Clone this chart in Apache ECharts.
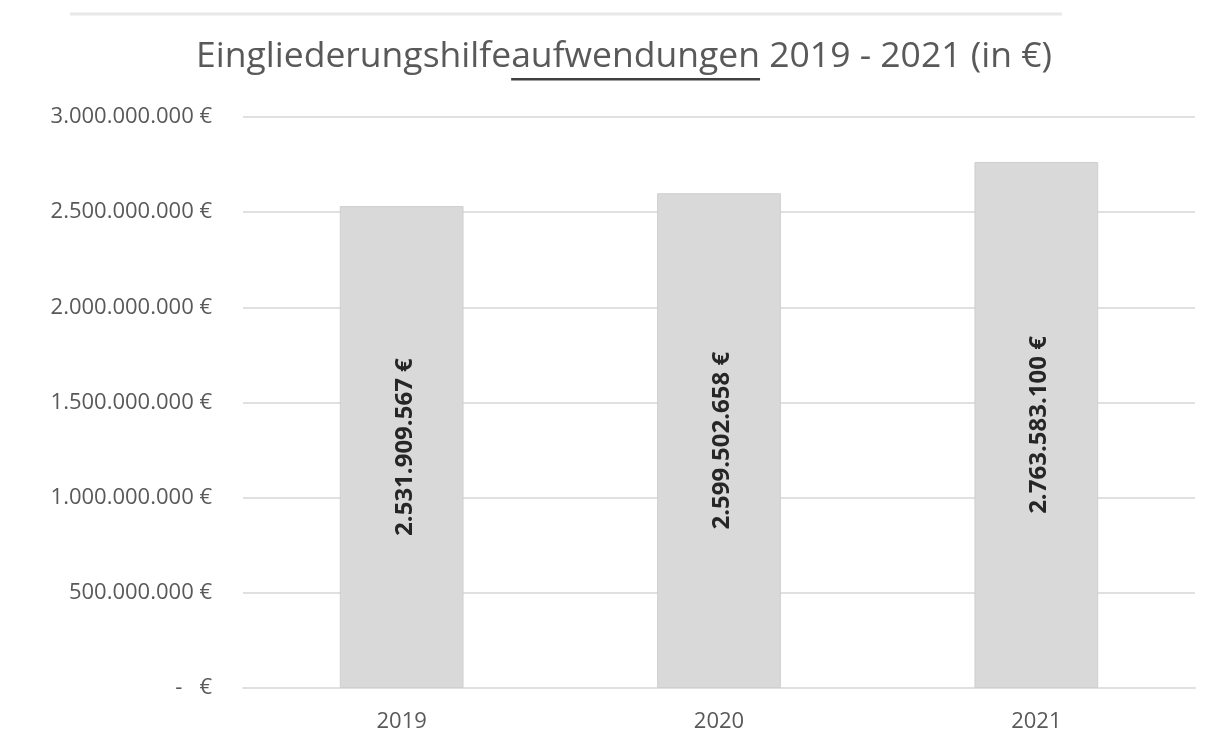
<!DOCTYPE html>
<html>
<head>
<meta charset="utf-8">
<script src="https://cdn.jsdelivr.net/npm/echarts@6/dist/echarts.min.js"></script>
<style>
  html, body { margin: 0; padding: 0; background: #ffffff; }
  #chart { width: 1224px; height: 749px; }
</style>
</head>
<body>
<div id="chart"></div>
<script>
// Jahre und Aufwendungen der Eingliederungshilfe (in €)
const years = ['2019', '2020', '2021'];
const expenses = [2531909567, 2599502658, 2763583100];
// Achsenbeschriftung
const yTicks = [0, 500000000, 1000000000, 1500000000, 2000000000, 2500000000, 3000000000];
const titleMain = 'Eingliederungshilfe';
const titleUnder = 'aufwendungen';
const titleRest = ' 2019 - 2021 (in €)';

const FONT = 'Open Sans';
const TITLE_SIZE = 35.5;

// Deutsche Tausendertrennung, Buchhaltungsformat für Null
function euro(v) {
  if (v === 0) return '-   €';
  return String(Math.round(v)).replace(/\B(?=(\d{3})+(?!\d))/g, '.') + ' €';
}

// Textbreite mit derselben Messung wie beim Zeichnen
function textWidth(str) {
  const t = new echarts.graphic.Text({
    style: { text: str, fontFamily: FONT, fontSize: TITLE_SIZE }
  });
  return t.getBoundingRect().width;
}

function draw() {
  const chart = echarts.init(document.getElementById('chart'), null, { renderer: 'canvas' });

  const wMain = textWidth(titleMain);
  const wUnder = textWidth(titleUnder);
  const wRest = textWidth(titleRest);
  const wTotal = wMain + wUnder + wRest;
  const titleCenter = 624;
  const titleTop = 39;
  const underX = titleCenter - wTotal / 2 + wMain;

  chart.setOption({
    backgroundColor: '#ffffff',
    animation: false,
    title: {
      text: '{a|' + titleMain + '}{a|' + titleUnder + '}{a|' + titleRest + '}',
      left: titleCenter,
      textAlign: 'center',
      top: titleTop,
      padding: 0,
      textStyle: {
        rich: {
          a: { fontFamily: FONT, fontSize: TITLE_SIZE, color: '#595959', fontWeight: 'normal' }
        }
      }
    },
    graphic: [
      {
        // Unterstreichung von „aufwendungen“
        type: 'rect',
        shape: { x: underX, y: 78, width: wUnder, height: 2.5 },
        style: { fill: '#404040' },
        silent: true
      },
      {
        // dünne Trennlinie oberhalb des Diagramms
        type: 'line',
        shape: { x1: 70, y1: 14, x2: 1062, y2: 14 },
        style: { stroke: '#e8e8e8', lineWidth: 3 },
        silent: true
      }
    ],
    grid: { left: 243, right: 29, top: 117, bottom: 61, containLabel: false },
    xAxis: {
      type: 'category',
      data: years,
      axisLine: { show: true, lineStyle: { color: '#e0e0e0', width: 2 } },
      axisTick: { show: false },
      axisLabel: { color: '#595959', fontFamily: FONT, fontSize: 22, margin: 23 }
    },
    yAxis: {
      type: 'value',
      min: yTicks[0],
      max: yTicks[yTicks.length - 1],
      interval: yTicks[1] - yTicks[0],
      axisLine: { show: false },
      axisTick: { show: false },
      splitLine: { lineStyle: { color: '#e0e0e0', width: 2 } },
      axisLabel: {
        color: '#595959', fontFamily: FONT, fontSize: 22, margin: 31,
        formatter: euro
      }
    },
    series: [{
      type: 'bar',
      data: expenses,
      barWidth: '39%',
      itemStyle: { color: '#d9d9d9', borderColor: '#cfcfcf', borderWidth: 1 },
      label: {
        show: true,
        position: 'inside',
        rotate: 90,
        offset: [0, 3],
        color: '#262626',
        fontFamily: FONT,
        fontWeight: 'bold',
        fontSize: 24,
        formatter: p => euro(p.value)
      }
    }]
  });
}

if (document.fonts && document.fonts.load) {
  Promise.all([
    document.fonts.load('35px "Open Sans"'),
    document.fonts.load('bold 24px "Open Sans"')
  ]).then(draw, draw);
} else {
  draw();
}
</script>
</body>
</html>
